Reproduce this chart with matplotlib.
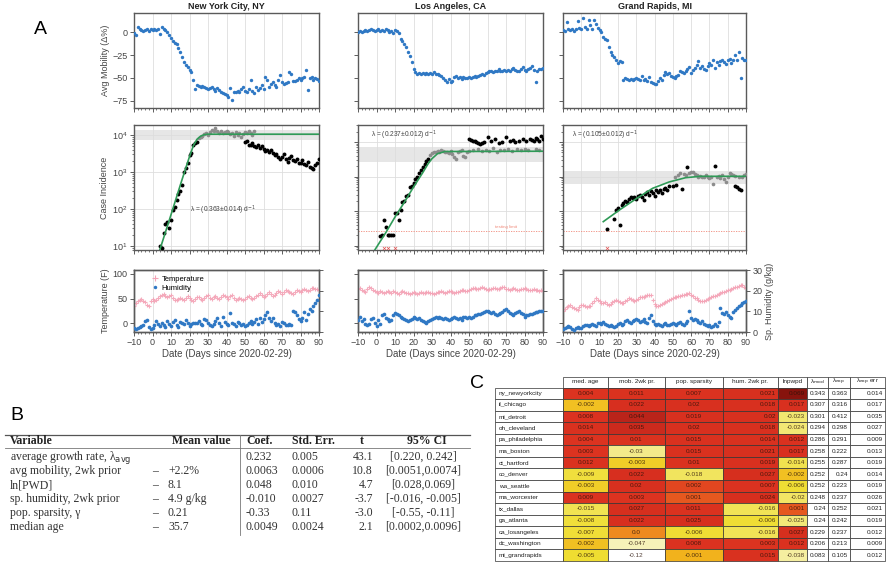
import numpy as np
import matplotlib
matplotlib.use('Agg')
import matplotlib.pyplot as plt
from matplotlib.patches import Rectangle
from matplotlib.lines import Line2D
from matplotlib.ticker import MultipleLocator, NullFormatter

plt.rcParams['font.family'] = ['Liberation Sans', 'DejaVu Sans']

# ---------------- panel A data ----------------
days = np.arange(-10, 91)
cities = ['New York City, NY', 'Los Angeles, CA', 'Grand Rapids, MI']

mob_nyc = [-1, -3, 6, 4, 2, 1, 2, 3, 1, 3,
           2, 3, 2, 3, -2, 6, 4, 2, 0, -3,
           -6, -10, -12, -13, -17, -22, -27, -33, -36, -38,
           -41, -44, -52, -62, -58, -59, -60, -59, -60, -61,
           -62, -61, -60, -62, -64, -61, -63, -65, -67, -68,
           -69, -71, -61, -74, -66, -65, -64, -66, -62, -60,
           -64, -66, -62, -52, -64, -67, -60, -63, -61, -58,
           -62, -49, -52, -60, -57, -55, -58, -60, -52, -47,
           -55, -57, -56, -54, -44, -46, -53, -53, -52, -50,
           -52, -50, -49, -41, -63, -50, -49, -52, -50, -51,
           -53]
mob_la = [0, 1, 0, 1, 2, 1, 2, 3, 2, 1,
          2, 3, 1, 2, 1, 3, 2, 0, 1, -1,
          2, 1, -1, -7, -10, -13, -16, -22, -26, -33,
          -40, -44, -46, -45, -46, -45, -46, -45, -46, -45,
          -46, -44, -46, -46, -47, -48, -50, -52, -54, -51,
          -55, -53, -49, -48, -50, -49, -51, -49, -50, -50,
          -49, -50, -49, -48, -49, -48, -47, -46, -47, -45,
          -44, -42, -43, -44, -43, -42, -40, -42, -43, -41,
          -42, -41, -42, -40, -39, -41, -43, -42, -40, -38,
          -41, -42, -40, -39, -37, -41, -54, -42, -40, -40,
          -39]
mob_gr = [2, 1, 11, 3, 2, 3, 1, 4, 12, 5,
          4, 15, 6, 3, 13, 8, 4, 13, 9, 5,
          2, 0, -5, -7, -9, -16, -22, -25, -27, -30,
          -34, -32, -33, -52, -50, -51, -52, -51, -52, -51,
          -50, -51, -52, -48, -52, -51, -53, -49, -54, -56,
          -57, -57, -53, -50, -52, -47, -44, -46, -45, -48,
          -49, -50, -48, -47, -42, -44, -45, -42, -40, -38,
          -45, -41, -39, -36, -32, -39, -37, -40, -41, -37,
          -34, -36, -31, -39, -33, -36, -32, -30, -33, -35,
          -31, -29, -34, -30, -25, -31, -22, -50, -28, -30,
          -31]

# case incidence: black = plotted dark, grey = plateau points
nyc_black_days = list(range(4, 25)) + list(range(50, 91))
nyc_black_vals = [10, 9, 22, 40, 45, 30, 50, 95, 115, 175, 260, 300, 450, 1000, 1300,
                  1700, 2900, 3300, 5400, 6000, 6600,
                  6500, 7000, 5200, 5500, 6200, 5000, 4800, 5500, 4500, 5000,
                  4300, 3800, 4000, 3500, 3900, 3300, 2800, 3100, 2500, 2200,
                  2600, 3000, 2300, 1900, 2400, 2700, 2100, 2000, 2300, 1800,
                  1700, 2100, 1600, 1500, 1900, 1400, 1300, 1200, 1500, 1700, 2200]
nyc_grey_days = list(range(25, 56))
nyc_grey_vals = [8500, 9000, 9500, 10500, 11000, 10000, 12000, 13500, 12500, 15500,
                 13000, 11500, 12500, 11000, 12000, 13000, 12000, 10500, 11500, 9500,
                 12000, 10000, 11000, 9000, 10500, 12000, 11500, 12500, 11000, 10000, 12500]
nyc_fit_days = [4, 10, 16, 20, 22, 24, 26, 28, 30, 90]
nyc_fit_vals = [8, 70, 630, 2600, 5000, 7600, 9300, 10200, 10500, 10500]

la_black_days = list(range(2, 29)) + [50, 51, 52, 53, 54, 55, 56, 57, 58, 60, 62, 64, 66, 68,
                                      70, 72, 74, 75, 77, 79, 81, 83, 84, 85, 86, 87, 88, 89, 90]
la_black_vals = [1.9, 2, 5.6, 3.6, 2, 2, 2, 2, 9, 9, 5.6, 11, 19, 20, 27, 30, 49, 55, 66, 83,
                 100, 130, 160, 190, 225, 280, 316,
                 1250, 1150, 1100, 1050, 1000, 950, 900, 920, 1000, 1350, 1100, 1200, 950, 1000,
                 1400, 1050, 1150, 1000, 1050, 1200, 1100, 1250, 1150, 1050, 1300, 1200, 1100, 1450, 1250]
la_grey_days = list(range(29, 51)) + [52, 55, 57, 59, 61, 63, 65, 67, 69, 71, 73, 76, 78, 80, 82, 86, 88]
la_grey_vals = [420, 480, 520, 500, 560, 530, 600, 550, 500, 520, 480, 540, 450, 380, 330, 500,
                560, 600, 400, 370, 520, 560,
                580, 620, 540, 600, 560, 650, 520, 600, 580, 630, 560, 610, 580, 640, 600, 620, 580]
la_fit_days = [-1, 5, 10, 15, 20, 25, 28, 30, 33, 37, 90]
la_fit_vals = [0.75, 2.4, 6.8, 18, 50, 130, 240, 330, 460, 530, 540]

gr_black_days = [14, 18, 19, 20, 21] + list(range(22, 49)) + [50, 52, 55, 58, 73, 84, 85, 86, 87]
gr_black_vals = [3, 6, 11, 12, 4, 15, 17, 20, 19, 22, 25, 24, 26, 22, 28,
                 30, 25, 21, 32, 35, 30, 38, 33, 28, 40, 36, 42, 34, 45, 48, 40, 52,
                 55, 58, 45, 190, 200, 55, 50, 45, 40]
gr_grey_days = [51, 53, 54, 56, 57] + list(range(59, 73)) + list(range(74, 85)) + [86, 88, 89, 90]
gr_grey_vals = [100, 115, 130, 120, 110, 125, 135, 140, 120, 110, 100, 105, 95, 100, 110, 95, 90,
                100, 60, 95, 105, 90, 110, 85, 70, 100, 125, 120, 110, 105, 95, 100, 115, 120]
gr_fit_days = [12, 21, 30, 39, 48, 57, 65, 90]
gr_fit_vals = [5, 11, 23, 46, 70, 93, 102, 102]

zero_days = [[], [4, 6, 10], [14]]
zero_vals = [[], [0.85, 0.85, 0.85], [0.85]]
plateau_band = [(7300, 13500), (265, 720), (63, 142)]
testing_limit = 2.7
lambdas = ['0.363', '0.237', '0.105']
lambda_errs = ['0.014', '0.012', '0.012']

temp_nyc = [35, 40, 45, 48, 50, 46, 42, 37, 35, 45,
            50, 44, 48, 52, 55, 58, 59, 55, 54, 56,
            57, 52, 48, 47, 50, 52, 50, 48, 52, 55,
            51, 48, 46, 49, 53, 54, 50, 48, 52, 56,
            57, 52, 50, 53, 55, 51, 49, 54, 57, 55,
            54, 50, 56, 58, 52, 48, 50, 52, 49, 47,
            50, 53, 55, 51, 49, 52, 56, 58, 61, 57,
            54, 56, 60, 63, 60, 56, 58, 62, 65, 63,
            60, 64, 67, 66, 63, 62, 60, 64, 68, 66,
            64, 68, 70, 67, 65, 68, 71, 72, 69, 70,
            68]
hum_nyc = [2.0, 1.5, 1.8, 2.2, 2.8, 3.5, 5.5, 6.0, 2.5, 1.5,
           2.0, 3.2, 5.5, 4.0, 2.8, 4.2, 3.5, 2.5, 5.2, 4.0,
           3.0, 4.8, 5.8, 3.5, 2.5, 5.0, 4.2, 3.8, 6.0, 4.5,
           3.0, 3.8, 4.5, 4.2, 4.5, 5.5, 4.0, 3.5, 6.2, 5.8,
           4.5, 3.2, 2.8, 4.0, 5.5, 6.8, 4.5, 3.0, 7.5, 5.0,
           4.0, 3.2, 9.0, 4.2, 3.8, 3.0, 5.0, 4.5, 3.5, 4.0,
           2.8, 3.2, 4.5, 5.5, 3.8, 4.8, 6.5, 4.0, 7.0, 5.0,
           6.5, 8.0, 9.5, 7.0, 5.5, 6.8, 4.5, 3.2, 4.0, 3.0,
           5.0, 4.2, 3.5, 3.2, 4.0, 3.5, 10.0, 9.5, 8.0, 6.5,
           5.5, 7.0, 9.5, 6.0, 8.5, 11.0, 10.0, 12.5, 14.0, 15.5,
           18.0]
temp_la = [70, 72, 68, 66, 64, 70, 74, 72, 68, 66,
           64, 62, 65, 63, 61, 64, 66, 63, 62, 65,
           64, 62, 60, 63, 65, 64, 62, 61, 60, 62,
           63, 62, 60, 61, 63, 62, 61, 63, 64, 62,
           61, 60, 62, 63, 64, 65, 63, 62, 64, 66,
           65, 63, 62, 63, 64, 66, 68, 67, 65, 66,
           68, 70, 72, 71, 69, 70, 72, 74, 72, 70,
           68, 69, 70, 72, 71, 69, 70, 72, 74, 73,
           70, 69, 68, 70, 71, 69, 68, 67, 69, 70,
           71, 69, 68, 67, 68, 69, 68, 67, 66, 67,
           66]
hum_la = [6.0, 7.5, 5.5, 6.5, 4.0, 3.5, 3.8, 6.5, 7.0, 4.5,
          3.0, 6.0, 4.0, 8.0, 8.5, 7.0, 6.5, 5.5, 6.0, 8.0,
          9.0, 8.5, 8.0, 7.5, 7.0, 6.5, 6.0, 5.5, 6.0, 6.5,
          7.5, 7.0, 6.5, 7.0, 6.0, 5.5, 5.0, 4.5, 5.5, 6.0,
          6.5, 7.0, 7.5, 7.0, 7.5, 7.0, 6.5, 7.0, 6.5, 6.0,
          6.5, 7.0, 7.5, 7.0, 6.5, 7.0, 6.0, 7.5, 7.5, 7.0,
          7.5, 7.0, 7.5, 8.0, 8.0, 8.5, 8.5, 9.0, 9.5, 10.0,
          10.0, 9.5, 9.0, 9.5, 8.5, 8.0, 8.5, 9.0, 9.5, 10.5,
          11.0, 10.0, 9.0, 8.5, 8.0, 9.0, 9.5, 10.0, 9.0, 8.5,
          7.5, 8.0, 8.0, 8.5, 8.5, 9.0, 9.5, 9.5, 10.0, 10.0,
          10.0]
temp_gr = [24, 28, 32, 35, 37, 33, 30, 28, 27, 32,
           36, 37, 35, 33, 34, 34, 40, 46, 51, 48,
           44, 41, 40, 42, 39, 37, 38, 42, 45, 47,
           44, 42, 40, 40, 44, 48, 51, 49, 47, 46,
           47, 50, 53, 54, 54, 56, 57, 58, 57, 48,
           38, 34, 35, 37, 39, 40, 42, 45, 47, 49,
           51, 53, 54, 55, 56, 57, 58, 59, 60, 61,
           58, 55, 52, 51, 48, 46, 44, 45, 48, 50,
           51, 53, 55, 56, 57, 59, 61, 63, 64, 65,
           67, 68, 70, 72, 73, 74, 76, 78, 77, 74,
           71]
hum_gr = [1.5, 2.0, 2.5, 2.8, 2.2, 1.5, 1.2, 1.8, 2.5, 2.0,
          1.8, 3.0, 3.5, 3.2, 2.8, 3.5, 4.0, 3.5, 3.0, 4.2,
          4.5, 4.0, 5.0, 4.0, 3.2, 2.8, 3.5, 3.0, 2.5, 3.0,
          3.8, 4.2, 3.5, 4.0, 5.5, 6.0, 5.0, 4.5, 5.5, 6.0,
          6.5, 5.8, 5.0, 5.5, 6.2, 5.0, 4.5, 7.0, 8.3, 5.5,
          4.0, 3.2, 3.8, 3.5, 3.0, 3.8, 4.2, 3.5, 3.2, 4.0,
          4.5, 4.0, 3.5, 4.2, 4.8, 4.0, 3.5, 4.5, 5.5, 10.0,
          7.0, 6.0, 6.5, 5.8, 5.0, 4.5, 5.5, 4.0, 3.2, 2.8,
          3.5, 2.5, 3.0, 3.8, 2.8, 5.0, 11.5, 9.0, 8.5, 9.5,
          8.0, 7.5, 7.0, 9.5, 10.5, 11.5, 12.5, 13.0, 14.0, 14.5,
          15.0]

# ---------------- panel B data ----------------
b_variables = ['average growth rate, λ$_{\\mathrm{avg}}$', 'avg mobility, 2wk prior', 'ln[PWD]',
               'sp. humidity, 2wk prior', 'pop. sparsity, γ', 'median age']
b_dash = ['', '–', '–', '–', '–', '–']
b_means = ['', '+2.2%', '8.1', '4.9 g/kg', '0.21', '35.7']
b_coef = ['0.232', '0.0063', '0.048', '-0.010', '-0.33', '0.0049']
b_stderr = ['0.005', '0.0006', '0.010', '0.0027', '0.11', '0.0024']
b_t = ['43.1', '10.8', '4.7', '-3.7', '-3.0', '2.1']
b_ci = ['[0.220, 0.242]', '[0.0051,0.0074]', '[0.028,0.069]', '[-0.016, -0.005]',
        '[-0.55, -0.11]', '[0.0002,0.0096]']

# ---------------- panel C data ----------------
c_rows = ['ny_newyorkcity', 'il_chicago', 'mi_detroit', 'oh_cleveland', 'pa_philadelphia',
          'ma_boston', 'ct_hartford', 'co_denver', 'wa_seattle', 'ma_worcester', 'tx_dallas',
          'ga_atlanta', 'ca_losangeles', 'dc_washington', 'mi_grandrapids']
c_heat_cols = ['med. age', 'mob. 2wk pr.', 'pop. sparsity', 'hum. 2wk pr.', 'lnpwpd']
c_lam_cols = ['λ$_{\\mathrm{mod}}$', 'λ$_{\\mathrm{exp}}$', 'λ$_{\\mathrm{exp}}$ err']
med_age = [0.004, -0.002, 0.008, 0.014, 0.004, 0.003, 0.012, -0.009, -0.003, 0.009, -0.015,
           -0.008, -0.007, -0.002, -0.005]
mob_2wk = [0.011, 0.022, 0.044, 0.035, 0.01, -0.03, -0.003, 0.022, 0.02, 0.003, 0.027, 0.022,
           0.0, -0.047, -0.12]
pop_sparsity = [0.007, 0.02, 0.019, 0.02, 0.015, 0.015, 0.01, -0.018, 0.002, 0.001, 0.011,
                0.025, -0.006, 0.008, -0.001]
hum_2wk = [0.021, 0.018, 0.02, 0.018, 0.014, 0.021, 0.019, 0.027, 0.007, 0.024, -0.016, -0.006,
           -0.016, 0.003, 0.015]
lnpwpd = [0.069, 0.017, -0.023, -0.024, 0.012, 0.017, -0.014, -0.002, -0.006, -0.02, 0.001,
          -0.025, 0.027, 0.012, -0.038]
lam_mod = [0.343, 0.307, 0.301, 0.294, 0.286, 0.258, 0.255, 0.252, 0.252, 0.248, 0.24, 0.24,
           0.229, 0.206, 0.083]
lam_exp = [0.363, 0.316, 0.412, 0.298, 0.291, 0.222, 0.287, 0.24, 0.223, 0.237, 0.252, 0.242,
           0.237, 0.213, 0.105]
lam_exp_err = [0.014, 0.017, 0.035, 0.027, 0.009, 0.013, 0.019, 0.014, 0.019, 0.026, 0.021,
               0.019, 0.012, 0.009, 0.012]

# colour scale used for the heat cells
heat_v = [-0.12, -0.05, -0.03, -0.01, -0.004, -0.001, 0.0, 0.001, 0.003, 0.03, 0.045, 0.07]
heat_c = ['#ffffff', '#f7f3c0', '#f3ea8a', '#f0e040', '#efdc2e', '#f2b21c', '#ee8a1f',
          '#e5581f', '#dc3320', '#d52e1e', '#b8231a', '#85120c']
heat_rgb = np.array([matplotlib.colors.to_rgb(c) for c in heat_c])


def heat_color(v):
    return tuple(np.interp(v, heat_v, heat_rgb[:, k]) for k in range(3))


# ---------------- figure ----------------
W, H = 889.0, 564.0
fig = plt.figure(figsize=(W / 100, H / 100), dpi=100)


def box(x0, y0, x1, y1):
    return [x0 / W, 1 - y1 / H, (x1 - x0) / W, (y1 - y0) / H]


col_x = [(134, 319), (358, 543), (563, 746)]
row_y = [(13, 108), (125, 250), (270, 332)]
blue = '#2f78c4'
pink = '#f4a3b6'
green = '#2f9a57'


def style(ax, show_xlabels):
    for s in ax.spines.values():
        s.set_color('#5a5a5a')
        s.set_linewidth(1.0)
    ax.set_xlim(-10, 90)
    ax.xaxis.set_major_locator(MultipleLocator(10))
    ax.xaxis.set_minor_locator(MultipleLocator(2))
    ax.tick_params(which='major', length=3, width=0.6, colors='#444444', labelsize=6.5, pad=1.5)
    ax.tick_params(which='minor', length=1.5, width=0.5, colors='#444444')
    ax.grid(axis='x', which='major', color='#dedede', lw=0.6)
    ax.set_axisbelow(True)
    if not show_xlabels:
        ax.tick_params(axis='x', labelbottom=False)


mobs = [mob_nyc, mob_la, mob_gr]
blacks = [(nyc_black_days, nyc_black_vals), (la_black_days, la_black_vals), (gr_black_days, gr_black_vals)]
greys = [(nyc_grey_days, nyc_grey_vals), (la_grey_days, la_grey_vals), (gr_grey_days, gr_grey_vals)]
fits = [(nyc_fit_days, nyc_fit_vals), (la_fit_days, la_fit_vals), (gr_fit_days, gr_fit_vals)]
temps = [temp_nyc, temp_la, temp_gr]
hums = [hum_nyc, hum_la, hum_gr]
case_ylims = [(7.8, 18600), (0.76, 3090), (0.76, 3090)]
lam_pos = [(0.30, 0.32), (0.07, 0.92), (0.05, 0.92)]

for i, (x0, x1) in enumerate(col_x):
    # mobility
    ax = fig.add_axes(box(x0, row_y[0][0], x1, row_y[0][1]))
    style(ax, False)
    ax.scatter(days, mobs[i], s=6, color=blue, lw=0, zorder=3)
    ax.set_ylim(-83, 21)
    ax.set_yticks([0, -25, -50, -75])
    ax.set_title(cities[i], fontsize=6.5, fontweight='bold', pad=3, color='#222222')
    if i == 0:
        ax.set_ylabel('Avg Mobility (Δ%)', fontsize=6.5, color='#444444', labelpad=2)
    else:
        ax.tick_params(axis='y', labelleft=False)

    # case incidence
    ax = fig.add_axes(box(x0, row_y[1][0], x1, row_y[1][1]))
    style(ax, False)
    ax.set_yscale('log')
    ax.set_ylim(*case_ylims[i])
    ax.grid(axis='y', which='major', color='#dedede', lw=0.6)
    ax.axhspan(plateau_band[i][0], plateau_band[i][1], color='#dcdcdc', alpha=0.7, lw=0, zorder=1)
    ax.axhline(testing_limit, color='#f08878', lw=0.6, ls=(0, (1.5, 1.5)), zorder=2)
    ax.scatter(greys[i][0], greys[i][1], s=7, color='#8c8c8c', lw=0, zorder=3)
    ax.scatter(blacks[i][0], blacks[i][1], s=8, color='black', lw=0, zorder=4)
    if zero_days[i]:
        ax.scatter(zero_days[i], zero_vals[i], s=5, marker='x', color='#e05050', lw=0.5, zorder=4)
    ax.plot(fits[i][0], fits[i][1], color=green, lw=1.2, zorder=5)
    ax.text(lam_pos[i][0], lam_pos[i][1],
            'λ = (%s±%s) d$^{-1}$' % (lambdas[i], lambda_errs[i]),
            transform=ax.transAxes, fontsize=4.8, color='#444444', va='center', ha='left')
    ax.tick_params(axis='y', which='minor', length=1.5, width=0.5)
    ax.yaxis.set_minor_formatter(NullFormatter())
    if i == 0:
        ax.set_ylabel('Case Incidence', fontsize=6.5, color='#444444', labelpad=2)
    else:
        ax.tick_params(axis='y', which='both', labelleft=False)
    if i == 1:
        ax.text(70, testing_limit * 1.12, 'testing limit', fontsize=3.2, color='#f08878',
                ha='center', va='bottom')

    # temperature / humidity
    ax = fig.add_axes(box(x0, row_y[2][0], x1, row_y[2][1]))
    style(ax, True)
    ax.scatter(days, temps[i], s=12, marker='+', color=pink, lw=0.8, alpha=0.9, zorder=3)
    ax.set_ylim(-18, 108)
    ax.set_yticks([0, 50, 100])
    ax.set_xlabel('Date (Days since 2020-02-29)', fontsize=7, color='#444444', labelpad=1)
    ax2 = ax.twinx()
    ax2.scatter(days, hums[i], s=7, color=blue, lw=0, zorder=3)
    ax2.set_ylim(0, 30)
    ax2.set_yticks([0, 10, 20, 30])
    ax2.tick_params(length=3, width=0.6, colors='#444444', labelsize=6.5, pad=1.5)
    for s in ax2.spines.values():
        s.set_color('#5a5a5a')
        s.set_linewidth(1.0)
    if i == 0:
        ax.set_ylabel('Temperature (F)', fontsize=6.5, color='#444444', labelpad=2)
        handles = [Line2D([], [], ls='', marker='+', color=pink, ms=4, mew=0.8, label='Temperature'),
                   Line2D([], [], ls='', marker='o', color=blue, ms=2.5, mew=0, label='Humidity')]
        ax.legend(handles=handles, loc='upper left', bbox_to_anchor=(0.05, 1.02), frameon=False,
                  fontsize=5.5, handletextpad=0.3, labelspacing=0.2, handlelength=1.2)
    else:
        ax.tick_params(axis='y', labelleft=False)
    if i == 2:
        ax2.set_ylabel('Sp. Humidity (g/kg)', fontsize=6.5, color='#444444', labelpad=2)
    else:
        ax2.tick_params(axis='y', labelright=False)

# panel letters
fig.text(40 / W, 1 - 30 / H, 'A', fontsize=14, ha='center', va='center')
fig.text(17 / W, 1 - 416 / H, 'B', fontsize=14, ha='center', va='center')
fig.text(477 / W, 1 - 383 / H, 'C', fontsize=14, ha='center', va='center')

# ---------------- panel B: regression table ----------------
axB = fig.add_axes(box(0, 400, 480, 545))
axB.set_xlim(0, 480)
axB.set_ylim(545, 400)
axB.axis('off')
serif = ['Liberation Serif', 'DejaVu Serif']
axB.plot([5, 470], [435, 435], color='#555555', lw=0.9)
axB.plot([5, 470], [448, 448], color='#777777', lw=0.6)
axB.plot([240, 240], [435, 535], color='#777777', lw=0.6)
hdr = dict(fontsize=8.5, fontweight='bold', va='center', family=serif, color='#222222')
axB.text(10, 441.5, 'Variable', ha='left', **hdr)
axB.text(172, 441.5, 'Mean value', ha='left', **hdr)
axB.text(246, 441.5, 'Coef.', ha='left', **hdr)
axB.text(292, 441.5, 'Std. Err.', ha='left', **hdr)
axB.text(362, 441.5, 't', ha='center', **hdr)
axB.text(427, 441.5, '95% CI', ha='center', **hdr)
cell = dict(fontsize=8.5, va='center', family=serif, color='#333333')
for k in range(len(b_variables)):
    y = 457 + 14 * k
    axB.text(10, y, b_variables[k], ha='left', **cell)
    axB.text(155, y, b_dash[k], ha='center', **cell)
    axB.text(168, y, b_means[k], ha='left', **cell)
    axB.text(246, y, b_coef[k], ha='left', **cell)
    axB.text(292, y, b_stderr[k], ha='left', **cell)
    axB.text(373, y, b_t[k], ha='right', **cell)
    axB.text(423, y, b_ci[k], ha='center', **cell)

# ---------------- panel C: coefficient table ----------------
axC = fig.add_axes(box(490, 374, 889, 564))
axC.set_xlim(490, 889)
axC.set_ylim(564, 374)
axC.axis('off')
col_edges = [495, 563, 608, 665, 723, 778, 807, 828, 850, 885]
row_h = 11.57
head_top, body_top = 376.5, 387.5
heat_data = [med_age, mob_2wk, pop_sparsity, hum_2wk, lnpwpd]
lam_data = [lam_mod, lam_exp, lam_exp_err]
heat_align = ['center', 'center', 'center', 'right', 'right']
fs_c = 4.6

headers = c_heat_cols + c_lam_cols
for j, name in enumerate(headers):
    xa, xb = col_edges[j + 1], col_edges[j + 2]
    axC.add_patch(Rectangle((xa, head_top), xb - xa, body_top - head_top, fc='white',
                            ec='#333333', lw=0.5))
    axC.text((xa + xb) / 2, (head_top + body_top) / 2, name, fontsize=fs_c, ha='center',
             va='center', color='#222222')

for r, name in enumerate(c_rows):
    yt = body_top + r * row_h
    yc = yt + row_h / 2
    axC.add_patch(Rectangle((col_edges[0], yt), col_edges[1] - col_edges[0], row_h, fc='white',
                            ec='#333333', lw=0.5))
    axC.text(col_edges[0] + 4, yc, name, fontsize=fs_c, ha='left', va='center', color='#222222')
    for j, vals in enumerate(heat_data):
        xa, xb = col_edges[j + 1], col_edges[j + 2]
        axC.add_patch(Rectangle((xa, yt), xb - xa, row_h, fc=heat_color(vals[r]),
                                ec='#333333', lw=0.5))
        tx = (xa + xb) / 2 if heat_align[j] == 'center' else xb - 2
        axC.text(tx, yc, str(vals[r]), fontsize=fs_c, ha=heat_align[j], va='center',
                 color='#2a1208', alpha=0.8)
    for j, vals in enumerate(lam_data):
        xa, xb = col_edges[j + 6], col_edges[j + 7]
        axC.add_patch(Rectangle((xa, yt), xb - xa, row_h, fc='white', ec='#333333', lw=0.5))
        axC.text(xb - 2, yc, str(vals[r]), fontsize=fs_c, ha='right', va='center',
                 color='#222222')

fig.savefig('out.png', dpi=100)
